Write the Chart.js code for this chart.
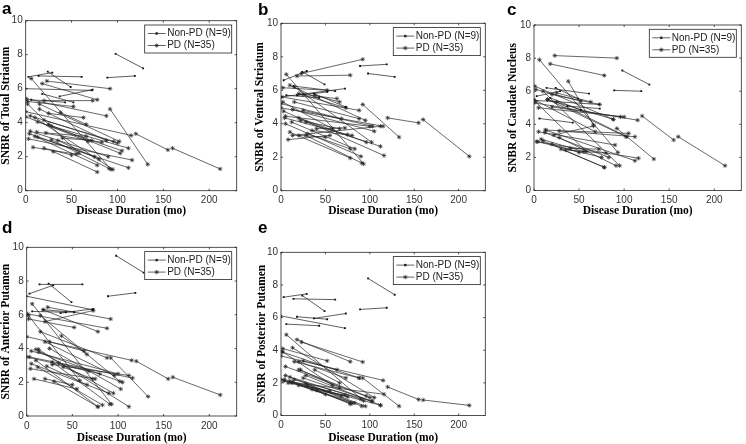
<!DOCTYPE html>
<html>
<head>
<meta charset="utf-8">
<script src="https://cdn.jsdelivr.net/npm/chart.js@4.4.1/dist/chart.umd.min.js"></script>
<style>
	html, body { margin: 0; padding: 0; background: #fff; }
	body { width: 746px; height: 444px; position: relative; overflow: hidden; }
	canvas { position: absolute; }
</style>
</head>
<body>
<script>
// disease duration (months) at each scan, one entry per subject
const nonPdDuration = [[98,128],[89,119],[3,29],[24,49],[14,61],[0,72],[6,43],[18,52],[37,73]];
const pdDuration = [
	[0,115],[120,155],[160,212],[23,92],[6,93],[18,78],[92,133],[1,88],[20,73],[2,52],
	[15,88],[25,63],[38,66],[5,100],[20,96],[13,105],[25,103],[28,112],[5,90],[4,75],
	[10,78],[13,112],[3,116],[28,91],[8,55],[20,50],[30,78],[0,68],[12,83],[35,80],
	[2,58],[40,72],[22,66],[10,95],[15,102]
];

// SNBR per region, same subject order as above
const nonPdTotal = [[8.05,7.2],[6.65,6.75],[6.7,6.95],[7.0,6.1],[6.75,6.7],[6.0,5.9],[5.35,5.2],[5.7,5.2],[5.55,5.95]];
const nonPdVentral = [[7.0,6.8],[7.45,7.55],[6.6,7.15],[7.1,6.35],[6.25,5.95],[5.6,6.1],[5.7,5.55],[5.7,5.9],[5.8,5.0]];
const nonPdCaudate = [[7.25,6.4],[6.05,6.0],[5.7,6.0],[6.2,5.55],[6.2,5.85],[5.45,5.2],[4.35,4.1],[5.6,4.85],[5.1,4.95]];
const nonPdAnterior = [[9.5,8.5],[7.1,7.3],[7.25,7.75],[7.85,6.75],[7.8,7.8],[7.1,6.3],[6.2,6.15],[6.3,6.15],[6.1,6.35]];
const nonPdPosterior = [[8.4,7.4],[6.5,6.6],[7.25,7.45],[7.35,6.4],[7.15,7.1],[6.1,5.35],[5.6,5.5],[6.05,5.9],[5.95,6.25]];

const pdTotal = [
	[4.65,3.25],[3.35,2.4],[2.5,1.28],[6.45,6.0],[6.6,1.25],[6.3,5.35],[4.8,1.55],[5.4,4.4],[5.3,5.3],[5.25,4.95],
	[4.8,2.95],[4.55,4.3],[4.6,3.9],[4.4,2.8],[4.15,2.9],[4.05,2.35],[3.9,2.2],[3.8,2.5],[3.5,2.0],[3.35,2.0],
	[3.2,1.5],[3.15,1.35],[3.05,1.8],[3.0,1.3],[2.55,2.15],[2.5,2.1],[2.3,1.1],[4.35,2.9],[3.45,2.85],[2.95,1.85],
	[5.1,2.2],[3.1,2.95],[3.4,3.2],[4.3,1.25],[5.1,2.9]
];
const pdVentral = [
	[4.95,3.85],[4.35,4.05],[4.25,2.05],[7.0,7.85],[6.95,1.6],[6.85,6.9],[5.15,3.2],[5.6,4.8],[5.8,4.95],[6.15,6.0],
	[5.3,4.3],[5.75,5.5],[5.7,5.3],[4.45,3.85],[4.35,2.9],[4.85,3.55],[4.8,3.85],[4.1,2.65],[4.0,2.05],[4.35,3.35],
	[3.5,1.95],[3.3,3.85],[4.75,2.1],[3.3,1.65],[3.05,3.3],[3.3,3.2],[3.4,2.5],[5.2,4.3],[4.1,2.5],[3.6,3.3],
	[5.3,3.7],[3.7,3.75],[4.2,3.7],[6.3,4.2],[6.2,2.9]
];
const pdCaudate = [
	[5.3,4.25],[4.5,3.05],[3.25,1.5],[8.15,8.0],[7.9,2.3],[7.65,6.95],[3.75,1.9],[6.3,4.3],[5.8,5.2],[6.1,5.4],
	[5.5,4.3],[5.9,5.35],[6.6,3.95],[5.0,4.45],[5.05,4.45],[3.65,3.45],[5.35,3.25],[3.6,3.25],[3.55,2.75],[2.95,2.0],
	[3.0,1.4],[3.65,1.8],[2.95,1.95],[3.2,1.5],[3.1,2.35],[2.8,2.3],[2.5,1.4],[5.5,3.55],[3.5,2.0],[2.45,2.25],
	[5.35,2.35],[2.55,2.5],[3.35,3.9],[6.0,1.5],[5.5,3.25]
];
const pdAnterior = [
	[4.7,3.3],[3.25,2.2],[2.3,1.25],[6.45,5.75],[6.65,0.7],[6.3,5.0],[3.45,1.15],[6.05,5.2],[5.6,6.25],[5.75,5.25],
	[5.0,3.45],[4.4,3.85],[4.75,3.65],[3.85,2.5],[4.4,2.4],[3.8,2.0],[4.0,1.6],[3.05,2.4],[3.1,1.35],[2.8,2.2],
	[3.3,0.55],[3.95,0.55],[3.5,2.25],[3.2,0.7],[2.2,1.6],[2.2,1.85],[2.05,0.55],[3.5,2.65],[2.9,0.65],[3.15,2.5],
	[5.95,2.1],[2.9,2.2],[2.95,1.85],[3.95,1.35],[5.95,2.05]
];
const pdPosterior = [
	[3.65,2.15],[1.75,0.98],[0.95,0.62],[4.5,3.28],[4.95,0.9],[4.65,3.3],[2.3,0.57],[3.9,2.3],[3.3,2.3],[4.1,3.35],
	[3.3,2.3],[3.35,2.8],[2.8,2.0],[3.0,1.1],[2.8,1.2],[4.15,1.1],[2.3,0.88],[2.45,0.63],[2.45,1.0],[2.2,1.15],
	[2.1,0.75],[2.05,0.63],[2.1,1.3],[1.95,0.57],[2.0,1.5],[1.85,1.3],[1.8,0.7],[2.2,1.2],[2.0,0.77],[1.6,0.75],
	[3.9,1.85],[1.55,1.25],[2.8,1.7],[2.35,0.57],[2.2,0.88]
];

const xTicks = [0, 50, 100, 150, 200];
const yTicks = [0, 2, 4, 6, 8, 10];
const legendLabels = ["Non-PD (N=9)", "PD (N=35)"];
const xTitle = "Disease Duration (mo)";

// canvas box [left, top, width, height], plot box [left, top, right, bottom]
const panels = [
	{ letter: "a", title: "SNBR of Total Striatum", nonPd: nonPdTotal, pd: pdTotal,
		box: [0, 0, 245, 218], plot: [25.7, 20.7, 236.7, 190.7], titleX: 6, letterX: 2, letterY: 14, xTitleY: 211 },
	{ letter: "b", title: "SNBR of Ventral Striatum", nonPd: nonPdVentral, pd: pdVentral,
		box: [245, 0, 245, 218], plot: [281, 23.3, 491, 190.7], titleX: 15, letterX: 13, letterY: 15, xTitleY: 211 },
	{ letter: "c", title: "SNBR of Caudate Nucleus", nonPd: nonPdCaudate, pd: pdCaudate,
		box: [490, 0, 256, 218], plot: [534, 25, 745, 190.5], titleX: 23, letterX: 17, letterY: 15, xTitleY: 211 },
	{ letter: "d", title: "SNBR of Anterior Putamen", nonPd: nonPdAnterior, pd: pdAnterior,
		box: [0, 218, 245, 226], plot: [26.7, 247.3, 236.7, 416], titleX: 6, letterX: 2, letterY: 15, xTitleY: 220 },
	{ letter: "e", title: "SNBR of Posterior Putamen", nonPd: nonPdPosterior, pd: pdPosterior,
		box: [245, 218, 245, 226], plot: [281, 252.3, 490.5, 415.5], titleX: 17, letterX: 13, letterY: 15, xTitleY: 220 }
];

function toPoints(durations, values) {
	let pts = [];
	durations.forEach((d, i) => {
		d.forEach((x, k) => pts.push({ x: x, y: values[i][k] }));
		pts.push({ x: d[d.length - 1], y: null });
	});
	return pts;
}

function drawMarker(ctx, style, x, y) {
	if (style === "rect") {
		ctx.fillRect(x - 1.2, y - 1.2, 2.4, 2.4);
	} else {
		const r = 2.2, d = r * 0.707;
		ctx.beginPath();
		ctx.moveTo(x - r, y); ctx.lineTo(x + r, y);
		ctx.moveTo(x, y - r); ctx.lineTo(x, y + r);
		ctx.moveTo(x - d, y - d); ctx.lineTo(x + d, y + d);
		ctx.moveTo(x - d, y + d); ctx.lineTo(x + d, y - d);
		ctx.stroke();
	}
}

const framePlugin = {
	id: "frame",
	afterDraw(chart) {
		const p = chart.options.plugins.frame;
		const { ctx, chartArea: a, scales } = chart;
		ctx.save();
		ctx.strokeStyle = "#262626";
		ctx.lineWidth = 0.8;
		ctx.strokeRect(a.left, a.top, a.right - a.left, a.bottom - a.top);

		// MATLAB style inward ticks on all four sides
		ctx.beginPath();
		xTicks.forEach(v => {
			const px = scales.x.getPixelForValue(v);
			ctx.moveTo(px, a.bottom); ctx.lineTo(px, a.bottom - 2);
			ctx.moveTo(px, a.top); ctx.lineTo(px, a.top + 2);
		});
		yTicks.forEach(v => {
			const py = scales.y.getPixelForValue(v);
			ctx.moveTo(a.left, py); ctx.lineTo(a.left + 2, py);
			ctx.moveTo(a.right, py); ctx.lineTo(a.right - 2, py);
		});
		ctx.stroke();

		// axis titles
		ctx.fillStyle = "#000";
		ctx.font = "bold 11.5px 'Liberation Serif'";
		ctx.textAlign = "center";
		ctx.textBaseline = "middle";
		ctx.fillText(xTitle, (a.left + a.right) / 2, p.xTitleY);
		ctx.save();
		ctx.translate(p.titleX, (a.top + a.bottom) / 2);
		ctx.rotate(-Math.PI / 2);
		ctx.fillText(p.title, 0, 0);
		ctx.restore();

		// panel letter
		ctx.font = "bold 17px 'Liberation Sans'";
		ctx.textAlign = "left";
		ctx.textBaseline = "alphabetic";
		ctx.fillText(p.letter, p.letterX, p.letterY);

		// legend box in the top right corner
		const lw = 87, lh = 28;
		const lx = a.right - 5 - lw, ly = a.top + 4.3;
		ctx.fillStyle = "#fff";
		ctx.fillRect(lx, ly, lw, lh);
		ctx.strokeStyle = "#262626";
		ctx.strokeRect(lx, ly, lw, lh);
		ctx.font = "10px 'Liberation Sans'";
		ctx.textBaseline = "middle";
		[["rect", ly + 8.5], ["star", ly + 20.5]].forEach(([style, yy], i) => {
			ctx.strokeStyle = "#222";
			ctx.fillStyle = "#222";
			ctx.lineWidth = 0.7;
			ctx.beginPath();
			ctx.moveTo(lx + 3, yy); ctx.lineTo(lx + 21, yy);
			ctx.stroke();
			drawMarker(ctx, style, lx + 12, yy);
			ctx.fillStyle = "#222";
			ctx.fillText(legendLabels[i], lx + 22.5, yy);
		});
		ctx.restore();
	}
};

panels.forEach(panel => {
	const [cx, cy, cw, ch] = panel.box;
	const [L, T, R, B] = panel.plot;
	const canvas = document.createElement("canvas");
	canvas.width = cw;
	canvas.height = ch;
	canvas.style.left = cx + "px";
	canvas.style.top = cy + "px";
	canvas.style.width = cw + "px";
	canvas.style.height = ch + "px";
	document.body.appendChild(canvas);

	const tickFont = { family: "'Liberation Sans', Arial, sans-serif", size: 10 };

	new Chart(canvas.getContext("2d"), {
		type: "line",
		data: {
			datasets: [
				{
					label: legendLabels[0],
					data: toPoints(nonPdDuration, panel.nonPd),
					borderColor: "#1a1a1a",
					borderWidth: 0.7,
					pointStyle: "rect",
					pointRadius: 1.3,
					pointBorderWidth: 0,
					pointBackgroundColor: "#111",
					spanGaps: false
				},
				{
					label: legendLabels[1],
					data: toPoints(pdDuration, panel.pd),
					borderColor: "#262626",
					borderWidth: 0.7,
					pointStyle: "star",
					pointRadius: 2.2,
					pointBorderWidth: 0.7,
					pointBorderColor: "#262626",
					pointBackgroundColor: "#262626",
					spanGaps: false
				}
			]
		},
		options: {
			responsive: false,
			animation: false,
			devicePixelRatio: 1,
			parsing: false,
			layout: {
				padding: { top: T - cy, right: cx + cw - R, left: 0, bottom: 0 }
			},
			plugins: {
				legend: { display: false },
				tooltip: { enabled: false },
				frame: {
					letter: panel.letter,
					title: panel.title,
					titleX: panel.titleX,
					letterX: panel.letterX,
					letterY: panel.letterY,
					xTitleY: panel.xTitleY
				}
			},
			scales: {
				x: {
					type: "linear",
					min: 0,
					max: 230,
					grid: { display: false, drawTicks: false },
					border: { display: false },
					ticks: {
						stepSize: 50,
						includeBounds: false,
						padding: 4,
						maxRotation: 0,
						autoSkip: false,
						color: "#333",
						font: tickFont
					},
					afterBuildTicks: s => { s.ticks = xTicks.map(v => ({ value: v })); },
					afterFit: s => { s.height = cy + ch - B; }
				},
				y: {
					type: "linear",
					min: 0,
					max: 10,
					grid: { display: false, drawTicks: false },
					border: { display: false },
					ticks: {
						stepSize: 2,
						padding: 3,
						color: "#333",
						font: tickFont
					},
					afterBuildTicks: s => { s.ticks = yTicks.map(v => ({ value: v })); },
					afterFit: s => { s.width = L - cx; }
				}
			}
		},
		plugins: [framePlugin]
	});
});
</script>
</body>
</html>
